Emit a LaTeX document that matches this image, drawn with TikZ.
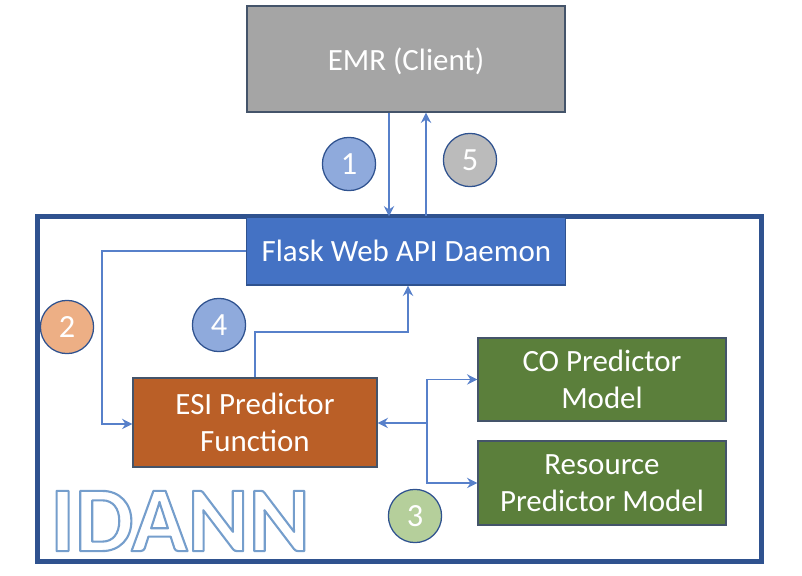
\documentclass[tikz,border=0pt]{standalone}
\usepackage{xcolor}
\usepackage{fontspec}
\usepackage{tikz}
\usetikzlibrary{arrows.meta, positioning, calc}
\setmainfont{Carlito}
\definecolor{idFrame}{HTML}{2F528F}
\definecolor{idBlue}{HTML}{4472C4}
\definecolor{idGray}{HTML}{A5A5A5}
\definecolor{idRust}{HTML}{BA5F27}
\definecolor{idGreen}{HTML}{5B7F3B}
\definecolor{idEdge}{HTML}{44546A}

\begin{document}
\begin{tikzpicture}[
  block/.style={draw=idEdge, line width=0.8pt, text=white, align=center, font=\fontsize{22}{26}\selectfont,
                inner sep=0pt},
  badge/.style={circle, draw=idFrame, line width=0.9pt, text=white, inner sep=0pt, minimum size=1.33cm,
                font=\fontsize{23}{25}\selectfont},
  arr/.style={-{Stealth[length=2.6mm, width=2.6mm]}, line width=0.9pt, color=idBlue!90}
]
\useasboundingbox (0,0) rectangle (20.05,14.4);
\node[draw=idFrame, line width=3pt, minimum width=18.1cm, minimum height=8.62cm, inner sep=0pt] (idann) at (9.99,4.675) {};

\node[block, fill=idGray, minimum width=7.95cm, minimum height=2.65cm, text height=0.7cm, text depth=0.1cm] (emr) at (10.15,12.925) {EMR (Client)};
\node[block, draw=idFrame, fill=idBlue, minimum width=7.975cm, minimum height=1.7cm] (flask) at (10.16,8.125) {Flask Web API Daemon};
\node[block, fill=idRust, minimum width=6.1cm, minimum height=2.225cm] (esi) at (6.375,3.8375) {ESI Predictor\\Function};
\node[block, fill=idGreen, minimum width=6.2cm, minimum height=2.075cm] (co) at (15.05,4.9125) {CO Predictor\\Model};
\node[block, fill=idGreen, minimum width=6.2cm, minimum height=2.1cm] (res) at (15.05,2.325) {Resource\\Predictor Model};

\node[badge, fill=idBlue!60] (one) at (8.725,10.3) {1};
\node[badge, fill=idGray!75] (five) at (11.75,10.4) {5};
\node[badge, fill={rgb,255:red,237;green,175;blue,133}] (two) at (1.675,6.225) {2};
\node[badge, fill=idBlue!60] (four) at (5.475,6.275) {4};
\node[badge, fill={rgb,255:red,181;green,207;blue,155}] (three) at (10.375,1.5) {3};

\node[font=\fontsize{66}{66}\selectfont\bfseries, text=white] (logo) at (4.5,1.375)
  {\special{pdf:code 2 Tr 1 j 1.5 w 0.46 0.62 0.80 RG}IDANN\special{pdf:code 0 Tr}};

\coordinate (split) at (10.675,3.825);

\draw[arr] ([xshift=-0.425cm]emr.south) -- ([xshift=-0.425cm]emr.south |- flask.north);
\draw[arr] ([xshift=0.5cm]emr.south |- flask.north) -- ([xshift=0.5cm]emr.south);
\draw[arr] (flask.west) -| (2.55,3.8) -- (esi.west |- 2.55,3.8);
\draw[arr] (esi.north) |- (10.2,6.1) -- (flask.south -| 10.2,6.1);
\draw[arr] (split) -- (esi.east |- split);
\draw[arr] (split) |- (co.west);
\draw[arr] (split) |- (res.west);
\end{tikzpicture}
\end{document}
